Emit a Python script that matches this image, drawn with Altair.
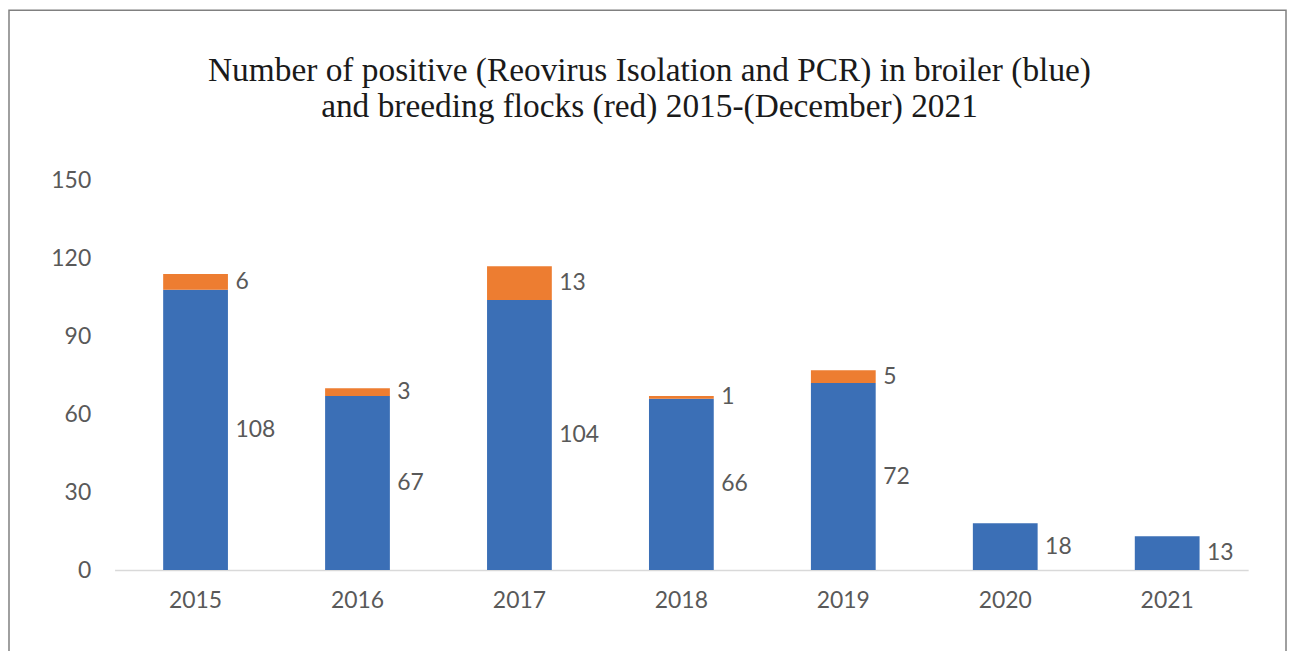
import altair as alt
import pandas as pd

years = ["2015", "2016", "2017", "2018", "2019", "2020", "2021"]
broiler = [108, 67, 104, 66, 72, 18, 13]
breeding = [6, 3, 13, 1, 5, 0, 0]
y_ticks = [0, 30, 60, 90, 120, 150]
title_lines = ["Number of positive (Reovirus Isolation and PCR) in broiler (blue)",
               "and breeding flocks (red) 2015-(December) 2021"]

BLUE = "#3B6FB6"
ORANGE = "#ED7D31"
GRAY = "#595959"
FONT = "Lato"

rows = []
for y, b, r in zip(years, broiler, breeding):
    rows.append({"year": y, "series": "broiler", "value": b, "order": 0, "base": 0})
    rows.append({"year": y, "series": "breeding", "value": r, "order": 1, "base": b})
df = pd.DataFrame(rows)

W, H = 1138, 391

x_enc = alt.X("year:N", sort=years,
              scale=alt.Scale(paddingInner=0.6, paddingOuter=0.3),
              axis=alt.Axis(title=None, labelAngle=0, labelFont=FONT, labelFontSize=23,
                            labelColor=GRAY, labelPadding=20, ticks=False,
                            domainColor="#D9D9D9", domainWidth=1.5))
y_scale = alt.Scale(domain=[0, 150], nice=False)

bars = alt.Chart(df).mark_bar().encode(
    x=x_enc,
    y=alt.Y("value:Q", stack="zero", scale=y_scale,
            axis=alt.Axis(title=None, values=y_ticks, grid=False, domain=False, ticks=False,
                          labelFont=FONT, labelFontSize=23, labelColor=GRAY, labelPadding=24)),
    color=alt.Color("series:N", scale=alt.Scale(domain=["broiler", "breeding"], range=[BLUE, ORANGE]),
                    legend=None),
    order=alt.Order("order:Q"),
)

labels = alt.Chart(df).transform_filter("datum.value > 0").transform_calculate(
    mid="datum.base + datum.value / 2"
).mark_text(align="left", baseline="middle", dx=40, font=FONT, fontSize=23, color=GRAY).encode(
    x=alt.X("year:N", sort=years),
    y=alt.Y("mid:Q", scale=y_scale),
    text=alt.Text("value:Q"),
)

border = alt.Chart(pd.DataFrame({"a": [0]})).mark_rect(
    fill=None, stroke="#808080", strokeWidth=1.5
).encode(
    x=alt.value(-106), x2=alt.value(W + 38), y=alt.value(-171), y2=alt.value(500)
)

title_layers = []
for i, (line, ypos) in enumerate(zip(title_lines, [-100, -64])):
    title_layers.append(
        alt.Chart(pd.DataFrame({"t": [line]})).mark_text(
            font="Liberation Serif", fontSize=33.5, color="#1A1A1A",
            align="center", baseline="alphabetic"
        ).encode(text="t:N", x=alt.value(W / 2 - 32), y=alt.value(ypos))
    )

chart = alt.layer(border, bars, labels, *title_layers).properties(
    width=W, height=H,
    autosize=alt.AutoSizeParams(type="none"),
    padding={"left": 107, "top": 172, "right": 40, "bottom": 80},
    background="white",
).configure_view(stroke=None)

chart.save("out.html", embed_options={"renderer": "svg", "actions": False})
